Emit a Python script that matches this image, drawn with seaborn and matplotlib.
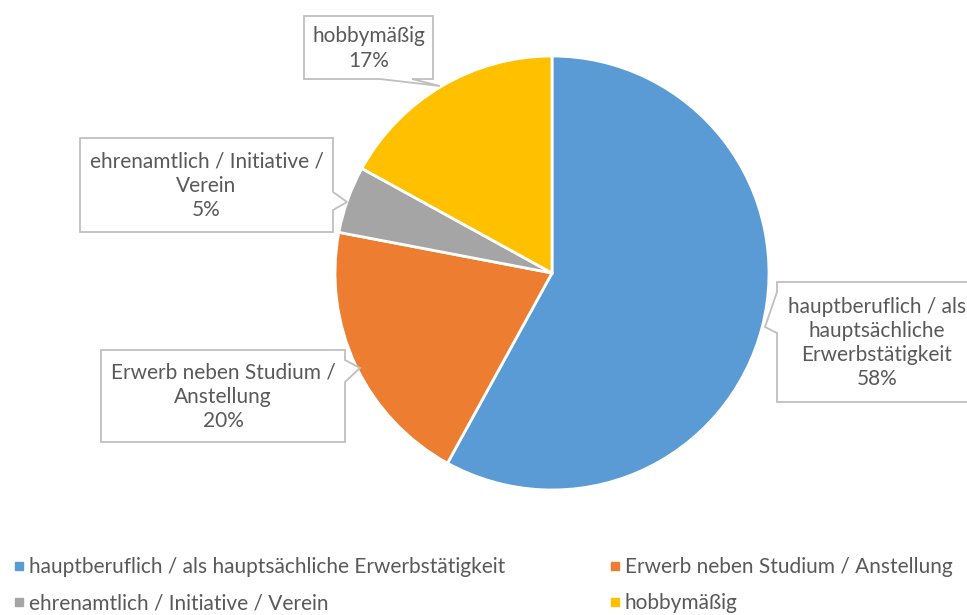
import numpy as np
import matplotlib
matplotlib.use("Agg")
import matplotlib.pyplot as plt
from matplotlib.patches import Polygon
from matplotlib.lines import Line2D
import seaborn as sns

labels = ["hauptberuflich / als hauptsächliche Erwerbstätigkeit",
          "Erwerb neben Studium / Anstellung",
          "ehrenamtlich / Initiative / Verein",
          "hobbymäßig"]
box_labels = ["hauptberuflich / als\nhauptsächliche\nErwerbstätigkeit",
              "Erwerb neben Studium /\nAnstellung",
              "ehrenamtlich / Initiative /\nVerein",
              "hobbymäßig"]
values = [58, 20, 5, 17]
colors = ["#5b9bd5", "#ed7d31", "#a5a5a5", "#ffc000"]

sns.set_theme(style="white")
plt.rcParams["font.family"] = ["Lato", "DejaVu Sans"]

W, H = 967, 615
fig = plt.figure(figsize=(W / 100, H / 100), dpi=100)
ax = fig.add_axes([0, 0, 1, 1])

# pie centre / radius in pixel coordinates (y goes down, so counterclock flips)
ax.pie(values, colors=colors, startangle=-90, counterclock=True,
       center=(552, 273), radius=217, frame=True,
       wedgeprops=dict(edgecolor="white", linewidth=2))
ax.set_xlim(0, W)
ax.set_ylim(H, 0)
ax.set_aspect("equal")
ax.axis("off")

# callout boxes: box corners, pointer base points, pointer tip
callouts = [
    dict(box=(777, 282, 985, 402), side="left", p=(292, 333), tip=(765, 327)),
    dict(box=(101, 350, 345, 442), side="right", p=(360, 382), tip=(360, 368)),
    dict(box=(80, 138, 333, 232), side="right", p=(192, 210), tip=(347, 202)),
    dict(box=(304, 16, 433, 79), side="bottom", p=(380, 412), tip=(440, 86)),
]
edge = "#bfbfbf"
txt = "#595959"
for c, lab, v in zip(callouts, box_labels, values):
    x0, y0, x1, y1 = c["box"]
    a, b = c["p"]
    tx, ty = c["tip"]
    if c["side"] == "left":
        pts = [(x0, y0), (x1, y0), (x1, y1), (x0, y1), (x0, b), (tx, ty), (x0, a)]
    elif c["side"] == "right":
        pts = [(x0, y0), (x1, y0), (x1, a), (tx, ty), (x1, b), (x1, y1), (x0, y1)]
    else:
        pts = [(x0, y0), (x1, y0), (x1, y1), (b, y1), (tx, ty), (a, y1), (x0, y1)]
    ax.add_patch(Polygon(pts, closed=True, facecolor="white", edgecolor=edge,
                         linewidth=1.3, zorder=5))
    ax.text((x0 + x1) / 2 if x1 < W else 877, (y0 + y1) / 2 + 1,
            f"{lab}\n{v}%", ha="center", va="center", fontsize=15,
            color=txt, linespacing=1.27, zorder=6)

handles = [Line2D([], [], marker="s", linestyle="none", markersize=6,
                  markerfacecolor=col, markeredgecolor=col) for col in colors]
order = [0, 2, 1, 3]
fig.legend([handles[i] for i in order], [labels[i] for i in order],
           ncol=2, loc="lower left", bbox_to_anchor=(-0.006, -0.028),
           frameon=False, fontsize=15, labelcolor=txt, handletextpad=0.15,
           handlelength=0.6, columnspacing=5.0, labelspacing=0.8)

fig.savefig("out.png", dpi=100)
